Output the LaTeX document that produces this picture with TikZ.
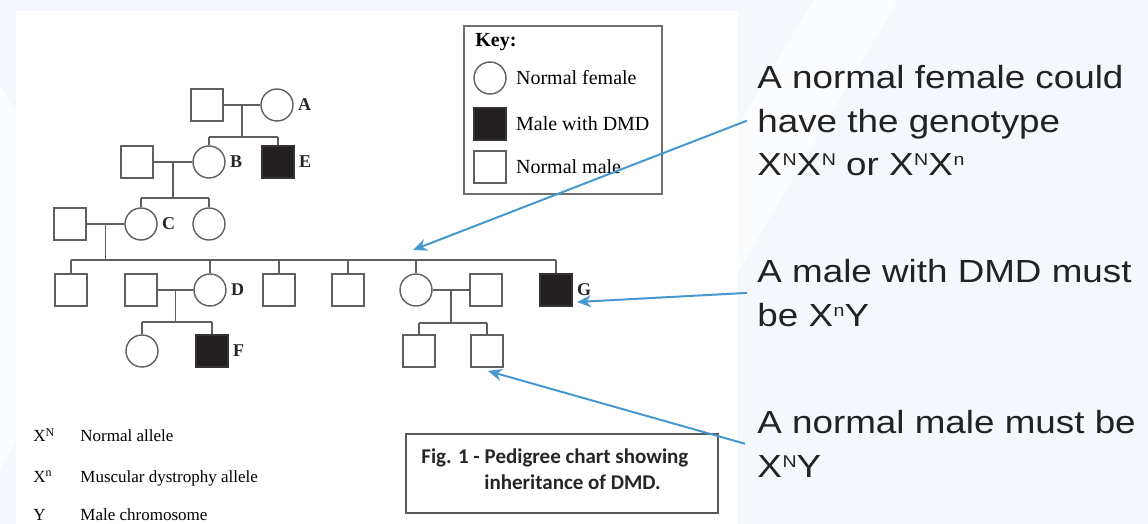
\documentclass[tikz,border=0pt]{standalone}
\usepackage{fontspec}
\setmainfont{Liberation Serif}
\newfontfamily\notefont[FakeStretch=1.15]{Liberation Sans}
\newfontfamily\figfont{Carlito}
\usetikzlibrary{arrows.meta,positioning,calc}
\definecolor{pagebg}{RGB}{244,248,252}
\definecolor{bandbg}{RGB}{250,252,254}
\definecolor{pedline}{RGB}{95,95,95}
\definecolor{pedfill}{RGB}{35,31,32}
\definecolor{notearr}{RGB}{70,152,207}
\definecolor{notetext}{RGB}{34,34,34}
\newcommand{\allele}[1]{X\kern0.3pt\raisebox{5pt}{\fontsize{8.5}{8.5}\selectfont #1}}
\tikzset{
  male/.style={rectangle, draw=pedline, line width=0.7pt, fill=white,
               minimum size=16pt, inner sep=0pt},
  female/.style={circle, draw=pedline, line width=0.7pt, fill=white,
                 minimum size=16pt, inner sep=0pt},
  affected/.style={male, fill=pedfill, draw=pedfill!70!pedline},
  idlbl/.style={font=\bfseries\fontsize{9}{10}\selectfont, text=black!85,
                inner sep=1pt},
  ped/.style={draw=pedline, line width=0.7pt},
  keytxt/.style={font=\fontsize{10}{12}\selectfont, inner sep=0pt},
  legtxt/.style={font=\fontsize{8.5}{10}\selectfont, anchor=base west, inner sep=0pt},
  figtxt/.style={font=\figfont\bfseries\fontsize{10.5}{13}\selectfont, anchor=base west,
                 inner sep=0pt, text=black!85},
  note/.style={font=\notefont\fontsize{16}{21.75}\selectfont, text=notetext,
               align=left, anchor=north west, inner sep=0pt},
  arr/.style={-{Stealth[length=7pt,width=6pt]}, line width=1pt, color=notearr},
}

\begin{document}
\begin{tikzpicture}[x=0.5pt, y=-0.5pt, label distance=1pt]
  % ---- page ----
  \useasboundingbox (0,0) rectangle (1148,524);
  \fill[pagebg] (0,0) rectangle (1148,524);
  \fill[bandbg] (814,0) -- (898,0) -- (738,272) -- (738,125) -- cycle;
  \fill[bandbg] (0,85) -- (16,112) -- (16,440) -- (0,470) -- cycle;
  \fill[white] (16,11) rectangle (738,524);

  % ---- generation I ----
  \node[male] (gI1) at (207,105) {};
  \node[female, label={[idlbl]right:A}] (A) at (277,105) {};

  % ---- generation II ----
  \node[male] (gII1) at (137,162) {};
  \node[female, label={[idlbl]right:B}] (B) at (209,162) {};
  \node[affected, label={[idlbl]right:E}] (E) at (278,162) {};

  % ---- generation III ----
  \node[male] (gIII1) at (70,224) {};
  \node[female, label={[idlbl]right:C}] (C) at (141,224) {};
  \node[female] (gIII3) at (209,224) {};

  % ---- generation IV ----
  \node[male] (gIV1) at (71,290) {};
  \node[male] (gIV2) at (141,290) {};
  \node[female, label={[idlbl]right:D}] (D) at (210,290) {};
  \node[male] (gIV4) at (279,290) {};
  \node[male] (gIV5) at (348,290) {};
  \node[female] (gIV6) at (416,290) {};
  \node[male] (gIV7) at (486,290) {};
  \node[affected, label={[idlbl]right:G}] (G) at (556,290) {};

  % ---- generation V ----
  \node[female] (gV1) at (142,351) {};
  \node[affected, label={[idlbl]right:F}] (F) at (212,351) {};
  \node[male] (gV3) at (419,351) {};
  \node[male] (gV4) at (487,351) {};

  % ---- matings and sibships ----
  \draw[ped] (gI1) -- (A);
  \coordinate (mI) at ($(gI1.east)!0.5!(A.west)$);
  \coordinate (sI) at ($(mI)+(0,32)$);
  \draw[ped] (mI) -- (sI);
  \draw[ped] (B |- sI) -- (E |- sI);
  \foreach \kid in {B,E} \draw[ped] (\kid) -- (\kid |- sI);

  \draw[ped] (gII1) -- (B);
  \coordinate (mII) at ($(gII1.east)!0.5!(B.west)$);
  \coordinate (sII) at ($(mII)+(0,36)$);
  \draw[ped] (mII) -- (sII);
  \draw[ped] (C |- sII) -- (gIII3 |- sII);
  \foreach \kid in {C,gIII3} \draw[ped] (\kid) -- (\kid |- sII);

  \draw[ped] (gIII1) -- (C);
  \coordinate (mIII) at ($(gIII1.east)!0.5!(C.west)$);
  \coordinate (sIII) at ($(mIII)+(0,36)$);
  \draw[ped] (mIII) -- (sIII);
  \draw[ped] (gIV1 |- sIII) -- (G |- sIII);
  \foreach \kid in {gIV1,D,gIV4,gIV5,gIV6,G} \draw[ped] (\kid) -- (\kid |- sIII);

  \draw[ped] (gIV2) -- (D);
  \coordinate (mIVa) at ($(gIV2.east)!0.5!(D.west)$);
  \coordinate (sIVa) at ($(mIVa)+(0,32)$);
  \draw[ped] (mIVa) -- (sIVa);
  \draw[ped] (gV1 |- sIVa) -- (F |- sIVa);
  \foreach \kid in {gV1,F} \draw[ped] (\kid) -- (\kid |- sIVa);

  \draw[ped] (gIV6) -- (gIV7);
  \coordinate (mIVb) at ($(gIV6.east)!0.5!(gIV7.west)$);
  \coordinate (sIVb) at ($(mIVb)+(0,33)$);
  \draw[ped] (mIVb) -- (sIVb);
  \draw[ped] (gV3 |- sIVb) -- (gV4 |- sIVb);
  \foreach \kid in {gV3,gV4} \draw[ped] (\kid) -- (\kid |- sIVb);

  % ---- key ----
  \node[draw=pedline!90, line width=0.8pt, minimum width=99pt, minimum height=84pt,
        inner sep=0pt] (keybox) at (563,110) {};
  \node[keytxt, font=\bfseries\fontsize{10}{12}\selectfont, anchor=west] (keytitle) at (475,42) {Key:};
  \node[female] (kfem) at (490,78) {};
  \node[affected] (kdmd) at (490,124) {};
  \node[male] (kmale) at (490,167) {};
  \node[keytxt, right=4.5pt of kfem] (kfemtxt) {Normal female};
  \node[keytxt, right=4.5pt of kdmd] (kdmdtxt) {Male with DMD};
  \node[keytxt, right=4.5pt of kmale] (kmaletxt) {Normal male};

  % ---- allele legend ----
  \node[legtxt] (symN) at (33,442) {X\textsuperscript{N}};
  \node[legtxt] (legN) at (80,442) {Normal allele};
  \node[legtxt] (symn) at (33,482) {X\textsuperscript{n}};
  \node[legtxt] (legn) at (80,482) {Muscular dystrophy allele};
  \node[legtxt] (symY) at (33,520) {Y};
  \node[legtxt] (legY) at (80,520) {Male chromosome};

  % ---- caption ----
  \node[draw=black!65, line width=1.1pt, minimum width=156pt, minimum height=39.5pt,
        inner sep=0pt] (figbox) at (562,473.5) {};
  \node[figtxt] (figl1) at (421,463) {Fig. 1 - Pedigree chart showing};
  \node[figtxt] (figl2) at (484,489) {inheritance of DMD.};

  % ---- notes ----
  \node[note] (note1) at (757,65) {A normal female could\\have the genotype\\\allele{N}\allele{N} or \allele{N}\allele{n}};
  \node[note] (note2) at (757,259) {A male with DMD must\\be \allele{n}Y};
  \node[note] (note3) at (757,410) {A normal male must be\\\allele{N}Y};

  \coordinate (tip1) at (413,250);
  \coordinate (tip2) at (577,302);
  \coordinate (tip3) at (488,371);
  \draw[arr] ([xshift=-5pt]note1.west) -- (tip1);
  \draw[arr] ([xshift=-5pt]note2.west) -- (tip2);
  \draw[arr] ([xshift=-6pt]note3.west) -- (tip3);
\end{tikzpicture}
\end{document}
